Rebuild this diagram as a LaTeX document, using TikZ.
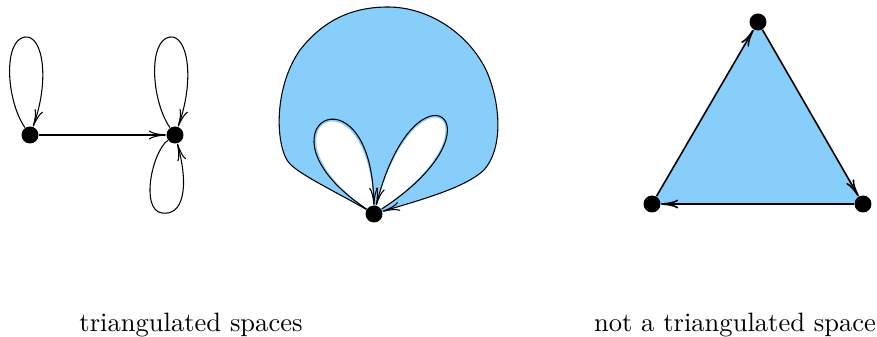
\documentclass[tikz,border=0pt]{standalone}
\usepackage{tikz}
\usetikzlibrary{arrows.meta,backgrounds}
\definecolor{sky}{HTML}{87CEFA}
\tikzset{
  vert/.style={circle,fill=black,inner sep=0pt,minimum size=6.4pt},
  ar/.style={-{To[length=6.5pt,width=3.4pt]}},
  face/.style={fill=sky},
}

\begin{document}
\begin{tikzpicture}[x=0.3767pt,y=-0.3767pt]
\useasboundingbox (0,0) rectangle (877,337);
% left: two vertices, loops
\node[vert] (a) at (30,135) {};
\node[vert] (b) at (175,135) {};
\draw[ar] (a) -- (b);
\draw[ar] (a) .. controls (6,100) and (3,40) .. (25,37) .. controls (43,35) and (50,80) .. (a);
\draw[ar] (b) .. controls (151,100) and (148,40) .. (170,37) .. controls (188,35) and (195,80) .. (b);
\draw[ar] (b) .. controls (152,152) and (140,210) .. (162,213) .. controls (182,216) and (190,190) .. (b);
% middle: one vertex, disc with two holes
\node[vert] (c) at (374,214) {};
\begin{scope}[on background layer]
\fill[face] (c.center) .. controls (340,194) and (302,176) .. (290,164)
  .. controls (276,150) and (272,90) .. (300,50)
  .. controls (325,18) and (355,7) .. (388,7)
  .. controls (430,7) and (470,35) .. (487,72)
  .. controls (502,108) and (502,150) .. (484,170)
  .. controls (465,188) and (420,200) .. (c.center);
\fill[white] (c.center) .. controls (245,128) and (372,58) .. (c.center);
\fill[white] (c.center) .. controls (512,124) and (415,52) .. (c.center);
\end{scope}
\draw[ar] (c) .. controls (340,194) and (302,176) .. (290,164)
  .. controls (276,150) and (272,90) .. (300,50)
  .. controls (325,18) and (355,7) .. (388,7)
  .. controls (430,7) and (470,35) .. (487,72)
  .. controls (502,108) and (502,150) .. (484,170)
  .. controls (465,188) and (420,200) .. (c);
\draw[ar] (c) .. controls (245,128) and (372,58) .. (c);
\draw[ar] (c) .. controls (512,124) and (415,52) .. (c);
% right: triangle
\node[vert] (t) at (758,22) {};
\node[vert] (l) at (652,204) {};
\node[vert] (r) at (863,204) {};
\begin{scope}[on background layer]
\fill[face] (t.center) -- (r.center) -- (l.center) -- cycle;
\end{scope}
\draw[ar,semithick] (l) -- (t);
\draw[ar,semithick] (t) -- (r);
\draw[ar,semithick] (r) -- (l);
% captions
\node (cap1) at (191,325) {triangulated spaces};
\node (cap2) at (735,325) {not a triangulated space};
\end{tikzpicture}
\end{document}
